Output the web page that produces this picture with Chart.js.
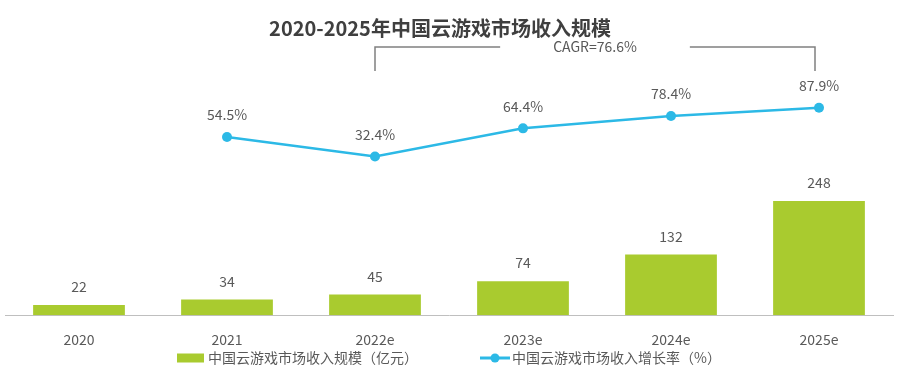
<!DOCTYPE html>
<html>
<head>
<meta charset="utf-8">
<script src="https://cdn.jsdelivr.net/npm/chart.js@4.4.1/dist/chart.umd.min.js"></script>
<style>
  html, body { margin: 0; padding: 0; background: #fff; }
  #wrap { width: 900px; height: 387px; }
</style>
</head>
<body>
<div id="wrap"><canvas id="chart"></canvas></div>
<script>
// --- data ---
const years = ['2020', '2021', '2022e', '2023e', '2024e', '2025e'];
const revenue = [22, 34, 45, 74, 132, 248];           // 亿元
const growth = [null, 54.5, 32.4, 64.4, 78.4, 87.9];  // %
const titleText = '2020-2025年中国云游戏市场收入规模';
const cagrText = 'CAGR=76.6%';
const cagrFrom = 2, cagrTo = 5;   // category indexes the bracket spans
const revenueLabel = '中国云游戏市场收入规模（亿元）';
const growthLabel = '中国云游戏市场收入增长率（%）';

const FONT = '"Noto Sans CJK SC", "Noto Sans", sans-serif';
const GREEN = '#A9CB2F';
const CYAN = '#2CB9E6';
const TEXT = '#595959';

// value labels, title, CAGR bracket and legend
const decorations = {
  id: 'decorations',
  afterDatasetsDraw(chart) {
    const ctx = chart.ctx;
    ctx.save();
    ctx.font = '14px ' + FONT;
    ctx.fillStyle = TEXT;
    ctx.textAlign = 'center';
    ctx.textBaseline = 'middle';
    chart.getDatasetMeta(1).data.forEach((bar, i) => {
      ctx.fillText(String(revenue[i]), bar.x, bar.y - 18);
    });
    chart.getDatasetMeta(0).data.forEach((pt, i) => {
      if (growth[i] == null) return;
      ctx.fillText(growth[i].toFixed(1) + '%', pt.x, pt.y - 22);
    });
    ctx.restore();
  },
  afterDraw(chart) {
    const ctx = chart.ctx;
    const x = chart.scales.x;
    ctx.save();
    // title
    ctx.font = 'bold 20px ' + FONT;
    ctx.fillStyle = '#3F3F3F';
    ctx.textAlign = 'center';
    ctx.textBaseline = 'middle';
    ctx.fillText(titleText, 440, 28);

    // bracket
    const x1 = x.getPixelForValue(cagrFrom);
    const x2 = x.getPixelForValue(cagrTo) - 4;
    const mid = (x1 + x2) / 2;
    const yTop = 47, yBot = 71;
    ctx.font = '14px ' + FONT;
    ctx.fillStyle = TEXT;
    ctx.fillText(cagrText, mid, yTop);
    const half = ctx.measureText(cagrText).width / 2 + 53;
    ctx.strokeStyle = '#808080';
    ctx.lineWidth = 1.5;
    ctx.beginPath();
    ctx.moveTo(x1, yBot); ctx.lineTo(x1, yTop); ctx.lineTo(mid - half, yTop);
    ctx.moveTo(mid + half, yTop); ctx.lineTo(x2, yTop); ctx.lineTo(x2, yBot);
    ctx.stroke();

    // legend
    const ly = 358;
    ctx.textAlign = 'left';
    ctx.fillStyle = GREEN;
    ctx.fillRect(177, ly - 4.5, 27, 9);
    ctx.fillStyle = TEXT;
    ctx.fillText(revenueLabel, 208, ly);
    ctx.strokeStyle = CYAN;
    ctx.lineWidth = 3;
    ctx.beginPath(); ctx.moveTo(480, ly); ctx.lineTo(510, ly); ctx.stroke();
    ctx.fillStyle = CYAN;
    ctx.beginPath(); ctx.arc(495, ly, 4.5, 0, Math.PI * 2); ctx.fill();
    ctx.fillStyle = TEXT;
    ctx.fillText(growthLabel, 512, ly);
    ctx.restore();
  }
};

new Chart(document.getElementById('chart'), {
  data: {
    labels: years,
    datasets: [
      {
        type: 'line',
        label: growthLabel,
        data: growth,
        yAxisID: 'yRate',
        borderColor: CYAN,
        backgroundColor: CYAN,
        borderWidth: 2.5,
        pointRadius: 5,
        pointBackgroundColor: CYAN,
        pointBorderWidth: 0,
        tension: 0,
        order: 0
      },
      {
        type: 'bar',
        label: revenueLabel,
        data: revenue,
        yAxisID: 'yRev',
        backgroundColor: GREEN,
        categoryPercentage: 1,
        barPercentage: 0.62,
        order: 1
      }
    ]
  },
  options: {
    responsive: true,
    maintainAspectRatio: false,
    animation: false,
    layout: { padding: { top: 85, left: 0, right: 7, bottom: 23 } },
    scales: {
      x: {
        grid: { display: false, drawTicks: false },
        border: { color: '#BFBFBF', width: 1 },
        ticks: { color: TEXT, font: { family: FONT, size: 14 }, padding: 16 }
      },
      yRev: { display: false, min: 0, max: 500 },
      yRate: { display: false, min: -148.5, max: 113.8 }
    },
    plugins: {
      legend: { display: false },
      tooltip: { enabled: false }
    }
  },
  plugins: [decorations]
});
</script>
</body>
</html>
